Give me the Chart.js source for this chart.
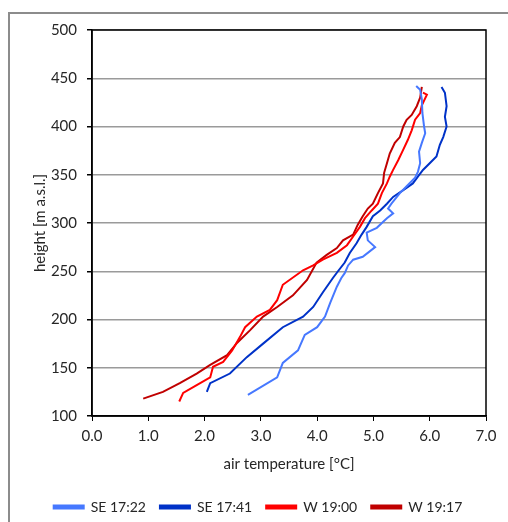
<!DOCTYPE html>
<html>
<head>
<meta charset="utf-8">
<script src="https://cdn.jsdelivr.net/npm/chart.js@4"></script>
<style>
  html, body { margin: 0; padding: 0; background: #fff; }
  #wrap { width: 508px; height: 522px; }
</style>
</head>
<body>
<div id="wrap"><canvas id="profile_canvas" width="508" height="522"></canvas></div>
<script>
// temperature profiles: x = air temperature, y = height
const seriesNames = ['SE 17:22', 'SE 17:41', 'W 19:00', 'W 19:17'];
const seriesColors = ['#4678ff', '#0032c8', '#ff0000', '#c00000'];

const se1722Temp = [2.77, 3.29, 3.39, 3.66, 3.78, 4.0, 4.14, 4.23, 4.35, 4.43, 4.49, 4.55, 4.64, 4.81, 5.03, 4.9, 4.88, 5.06, 5.15, 5.24, 5.35, 5.26, 5.32, 5.47, 5.59, 5.74, 5.79, 5.83, 5.81, 5.86, 5.92, 5.9, 5.87, 5.86, 5.83, 5.76];
const se1722Height = [122, 140, 155, 168, 184, 192, 203, 217, 234, 243, 248, 256, 262, 265, 275, 282, 290, 295, 300, 305, 310, 315, 320, 331, 338, 347, 353, 362, 374, 383, 393, 400, 414, 428, 438, 442];

const se1741Temp = [2.04, 2.1, 2.45, 2.75, 3.04, 3.39, 3.75, 3.93, 4.1, 4.28, 4.37, 4.49, 4.58, 4.7, 4.79, 4.88, 4.99, 5.12, 5.24, 5.35, 5.53, 5.7, 5.79, 5.88, 6.0, 6.12, 6.18, 6.24, 6.3, 6.27, 6.3, 6.27, 6.21];
const se1741Height = [125, 134, 144, 161, 175, 192, 203, 213, 228, 243, 250, 259, 269, 279, 288, 296, 307, 313, 320, 327, 334, 341, 348, 355, 362, 369, 381, 389, 400, 410, 421, 435, 441];

const w1900Temp = [1.55, 1.62, 1.86, 2.1, 2.15, 2.33, 2.49, 2.63, 2.72, 2.93, 3.16, 3.29, 3.39, 3.75, 3.93, 4.1, 4.35, 4.53, 4.64, 4.76, 4.85, 4.97, 5.08, 5.15, 5.24, 5.29, 5.35, 5.44, 5.53, 5.61, 5.68, 5.74, 5.83, 5.86, 5.95, 5.88];
const w1900Height = [115, 124, 132, 140, 151, 156, 168, 182, 192, 203, 210, 220, 236, 251, 256, 262, 269, 277, 286, 296, 305, 313, 320, 331, 341, 348, 355, 365, 376, 386, 396, 407, 414, 422, 433, 435];

const w1917Temp = [0.91, 1.26, 1.56, 1.86, 2.1, 2.4, 2.58, 2.81, 3.04, 3.29, 3.57, 3.82, 3.99, 4.17, 4.35, 4.46, 4.64, 4.72, 4.81, 4.9, 4.99, 5.08, 5.17, 5.19, 5.24, 5.29, 5.38, 5.47, 5.53, 5.59, 5.68, 5.77, 5.83, 5.86];
const w1917Height = [118, 125, 134, 144, 153, 163, 176, 189, 203, 213, 225, 241, 259, 267, 274, 282, 288, 298, 307, 315, 320, 331, 341, 352, 362, 372, 383, 389, 400, 407, 412, 421, 430, 441];

const tempTicks = [0, 1, 2, 3, 4, 5, 6, 7];
const heightTicks = [100, 150, 200, 250, 300, 350, 400, 450, 500];

const allTemps = [se1722Temp, se1741Temp, w1900Temp, w1917Temp];
const allHeights = [se1722Height, se1741Height, w1900Height, w1917Height];

function toPoints(temps, heights) {
  return temps.map((t, i) => ({ x: t, y: heights[i] }));
}

const FONT = 'Lato, "Open Sans", sans-serif';
const TEXT = '#262626';

// outer frame of the chart area and the black box round the plot
const framePlugin = {
  id: 'frame',
  beforeDraw(chart) {
    const c = chart.ctx;
    c.save();
    c.fillStyle = '#fff';
    c.fillRect(0, 0, chart.width, chart.height);
    c.strokeStyle = '#8c8c8c';
    c.lineWidth = 2;
    c.beginPath();
    c.moveTo(9, chart.height + 5);
    c.lineTo(9, 13);
    c.lineTo(chart.width + 5, 13);
    c.stroke();
    c.restore();
  },
  afterDatasetsDraw(chart) {
    const a = chart.chartArea;
    const c = chart.ctx;
    c.save();
    c.strokeStyle = '#000';
    c.lineWidth = 1.5;
    c.strokeRect(a.left, a.top, a.right - a.left, a.bottom - a.top);
    c.restore();
  }
};

const ctx = document.getElementById('profile_canvas').getContext('2d');
const profileChart = new Chart(ctx, {
  type: 'scatter',
  data: {
    datasets: seriesNames.map((name, i) => ({
      label: name,
      data: toPoints(allTemps[i], allHeights[i]),
      showLine: true,
      borderColor: seriesColors[i],
      backgroundColor: seriesColors[i],
      borderWidth: 2,
      pointRadius: 0,
      tension: 0
    }))
  },
  options: {
    responsive: false,
    animation: false,
    layout: { padding: { left: 30, top: 30, right: 22, bottom: -2 } },
    plugins: {
      tooltip: { enabled: false },
      legend: {
        position: 'bottom',
        labels: {
          boxWidth: 30,
          boxHeight: 3,
          padding: 14,
          color: TEXT,
          font: { family: FONT, size: 14 }
        }
      }
    },
    scales: {
      x: {
        type: 'linear',
        min: tempTicks[0],
        max: tempTicks[tempTicks.length - 1],
        afterBuildTicks: s => { s.ticks = tempTicks.map(v => ({ value: v })); },
        afterFit: s => { s.height = 70; },
        border: { color: '#000', width: 1.5 },
        grid: { drawOnChartArea: false, drawTicks: true, tickLength: 5, tickColor: '#000' },
        ticks: {
          padding: 6,
          color: TEXT,
          font: { family: FONT, size: 15 },
          callback: v => v.toFixed(1)
        },
        title: {
          display: true,
          text: 'air temperature [°C]',
          color: TEXT,
          font: { family: FONT, size: 15 },
          padding: { top: 0, bottom: 13 }
        }
      },
      y: {
        type: 'linear',
        min: heightTicks[0],
        max: heightTicks[heightTicks.length - 1],
        afterBuildTicks: s => { s.ticks = heightTicks.map(v => ({ value: v })); },
        afterFit: s => { s.width = 62; },
        border: { color: '#000', width: 1.5 },
        grid: { color: '#9a9a9a', lineWidth: 1.5, tickLength: 5, tickColor: '#000' },
        ticks: {
          padding: 10,
          color: TEXT,
          font: { family: FONT, size: 15 }
        },
        title: {
          display: true,
          text: 'height [m a.s.l.]',
          color: TEXT,
          font: { family: FONT, size: 15 },
          padding: { top: 1, bottom: 0 }
        }
      }
    }
  },
  plugins: [framePlugin]
});
</script>
</body>
</html>
